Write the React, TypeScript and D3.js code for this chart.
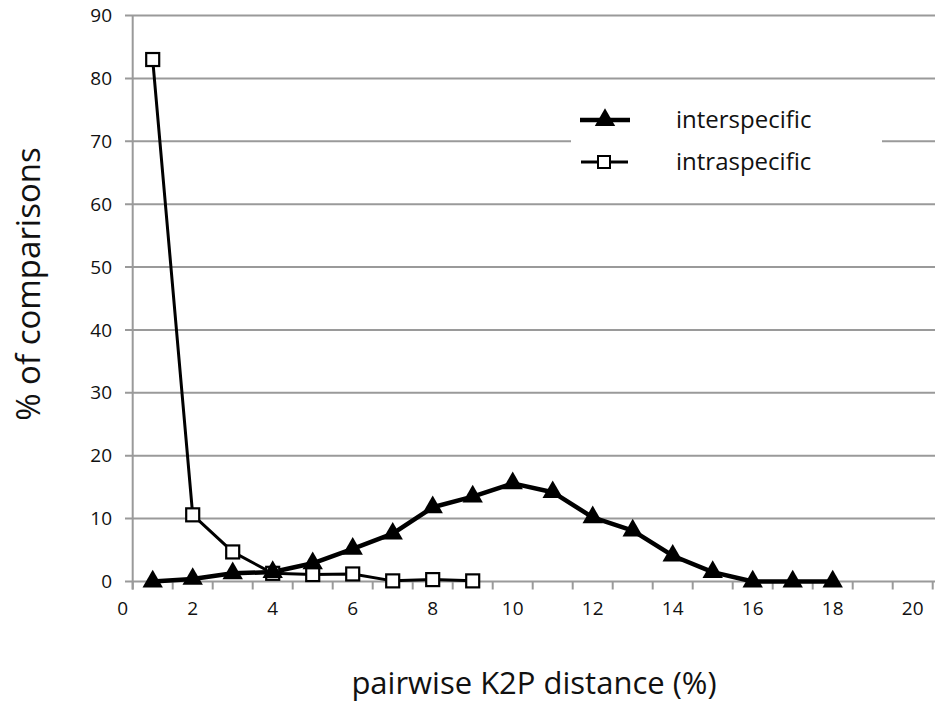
import React from "react";
import * as d3 from "d3";

const categories = [1, 2, 3, 4, 5, 6, 7, 8, 9, 10, 11, 12, 13, 14, 15, 16, 17, 18];
const interspecific = [0, 0.4, 1.3, 1.5, 2.9, 5.2, 7.6, 11.8, 13.5, 15.6, 14.2, 10.2, 8.1, 4.1, 1.5, 0, 0, 0];
const intraCategories = [1, 2, 3, 4, 5, 6, 7, 8, 9];
const intraspecific = [83, 10.6, 4.7, 1.3, 1.1, 1.2, 0.1, 0.3, 0.1];
const yTicks = [0, 10, 20, 30, 40, 50, 60, 70, 80, 90];
const xTickLabels = [0, 2, 4, 6, 8, 10, 12, 14, 16, 18, 20];
const seriesNames = ["interspecific", "intraspecific"];

const W = 935;
const H = 704;
const FONT = "'Open Sans', 'DejaVu Sans', sans-serif";

export default function App() {
  const x = d3.scaleLinear().domain([0.5, 20.5]).range([132.7, 932.7]);
  const y = d3.scaleLinear().domain([0, 90]).range([581.5, 15.5]);
  const line = d3
    .line<[number, number]>()
    .x((d) => x(d[0]))
    .y((d) => y(d[1]));
  const interPts: [number, number][] = categories.map((c, i) => [c, interspecific[i]]);
  const intraPts: [number, number][] = intraCategories.map((c, i) => [c, intraspecific[i]]);
  const tri = d3.symbol().type(d3.symbolTriangle).size(180)();
  const grid = "#9a9a9a";
  const boundaries = d3.range(0.5, 21, 1);

  return (
    <svg
      width={W}
      height={H}
      style={{ position: "absolute", left: 0, top: 0, background: "#fff" }}
      fontFamily={FONT}
    >
      <rect x={0} y={0} width={W} height={H} fill="#fff" />
      {/* gridlines */}
      {yTicks.map((t) => (
        <line key={"g" + t} x1={125} x2={W} y1={y(t)} y2={y(t)} stroke={grid} strokeWidth={2} />
      ))}
      {/* y axis */}
      <line x1={x(0.5)} x2={x(0.5)} y1={y(90)} y2={y(0) + 8} stroke={grid} strokeWidth={2} />
      {/* x ticks */}
      {boundaries.map((b) => (
        <line key={"xt" + b} x1={x(b)} x2={x(b)} y1={y(0)} y2={y(0) + 8} stroke={grid} strokeWidth={2} />
      ))}
      {/* y tick labels */}
      {yTicks.map((t) => (
        <text key={"yl" + t} x={112} y={y(t)} dy="0.35em" textAnchor="end" fontSize={19} fill="#111">
          {t}
        </text>
      ))}
      {/* x tick labels */}
      {xTickLabels.map((t) => (
        <text key={"xl" + t} x={x(Math.max(t, 0.25))} y={615} textAnchor="middle" fontSize={19} fill="#111">
          {t}
        </text>
      ))}
      {/* legend background */}
      <rect x={571} y={98} width={311} height={88} fill="#fff" />
      {/* series lines */}
      <path d={line(intraPts) || ""} fill="none" stroke="#000" strokeWidth={3} strokeLinejoin="round" />
      <path d={line(interPts) || ""} fill="none" stroke="#000" strokeWidth={4.5} strokeLinejoin="round" />
      {intraPts.map((p, i) => (
        <rect
          key={"sq" + i}
          x={x(p[0]) - 6.5}
          y={y(p[1]) - 6.5}
          width={13}
          height={13}
          fill="#fff"
          stroke="#000"
          strokeWidth={2.2}
        />
      ))}
      {interPts.map((p, i) => (
        <path key={"tr" + i} d={tri || ""} transform={`translate(${x(p[0])},${y(p[1])})`} fill="#000" />
      ))}
      {/* legend */}
      <line x1={580} x2={630} y1={120} y2={120} stroke="#000" strokeWidth={4.5} />
      <path d={tri || ""} transform="translate(605,120)" fill="#000" />
      <text x={676} y={120} dy="0.35em" fontSize={24} fill="#111">
        {seriesNames[0]}
      </text>
      <line x1={581} x2={628} y1={162} y2={162} stroke="#000" strokeWidth={3} />
      <rect x={598} y={156} width={12} height={12} fill="#fff" stroke="#000" strokeWidth={2} />
      <text x={676} y={162} dy="0.35em" fontSize={24} fill="#111">
        {seriesNames[1]}
      </text>
      {/* axis titles */}
      <text x={534} y={694} textAnchor="middle" fontSize={31} fill="#111">
        pairwise K2P distance (%)
      </text>
      <text transform={`translate(40,284) rotate(-90)`} textAnchor="middle" fontSize={33} fill="#111">
        % of comparisons
      </text>
    </svg>
  );
}
